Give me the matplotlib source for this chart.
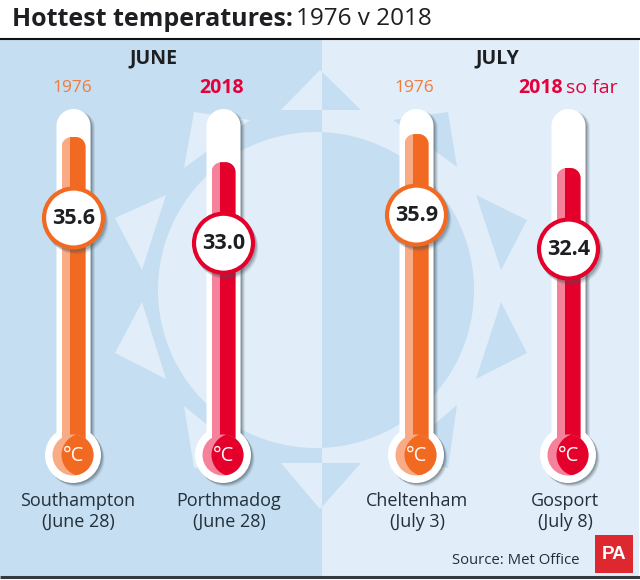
import matplotlib
matplotlib.use("Agg")
import matplotlib.pyplot as plt
import numpy as np
from matplotlib.patches import Rectangle, Circle, Polygon, FancyBboxPatch

# ---- data ----
cities = ["Southampton", "Porthmadog", "Cheltenham", "Gosport"]
dates = ["(June 28)", "(June 28)", "(July 3)", "(July 8)"]
values = [35.6, 33.0, 35.9, 32.4]
value_labels = ["35.6", "33.0", "35.9", "32.4"]
years = ["1976", "2018", "1976", "2018"]
months = ["JUNE", "JULY"]

# ---- style ----
FONT = "Open Sans"
plt.rcParams["font.family"] = [FONT, "DejaVu Sans"]
LEFT_BG, RIGHT_BG = "#C5DEF1", "#E1EEF9"
INK = "#1D1F22"
LABEL = "#22303A"
ORANGE = ("#F26A21", "#F9AB85", "#EF7B3D")
RED = ("#E4002B", "#F5819A", "#E4003A")
palette = [ORANGE, RED, ORANGE, RED]
tube_x = [73.5, 223.5, 416.5, 568.5]
label_x = [78, 229, 417, 565]
year_x = [72, 222, 414, None]
W, H = 640, 580
PX_PER_DEG = 9.7
TOP_AT = (35.6, 137)            # value -> pixel row calibration

fig = plt.figure(figsize=(W / 100, H / 100), dpi=100, facecolor="white")


def full_axes(z):
    a = fig.add_axes([0, 0, 1, 1], zorder=z)
    a.set_xlim(0, W)
    a.set_ylim(H, 0)
    a.axis("off")
    a.patch.set_visible(False)
    return a


def round_top(x, width, top_row, bottom_row, radius):
    """Outline of a column with two round upper corners, in pixel space."""
    t = np.linspace(0, np.pi / 2, 16)
    right_arc = [(x + width / 2 - radius + radius * np.cos(a),
                  top_row + radius - radius * np.sin(a)) for a in t]
    left_arc = [(x - width / 2 + radius - radius * np.sin(a),
                 top_row + radius - radius * np.cos(a)) for a in t]
    return [(x + width / 2, bottom_row)] + right_arc + left_arc + [(x - width / 2, bottom_row)]


bg = full_axes(1)
mid = full_axes(2)
top = full_axes(3)
# temperature scale: same pixel space in x, degrees Celsius in y
mid.set_ylim(TOP_AT[0] - (H - TOP_AT[1]) / PX_PER_DEG,
             TOP_AT[0] + TOP_AT[1] / PX_PER_DEG)

# ---- background panels and sun ----
left = Rectangle((0, 40), 322, 536, fc=LEFT_BG, ec="none")
right = Rectangle((322, 40), 317, 536, fc=RIGHT_BG, ec="none")
bg.add_patch(left)
bg.add_patch(right)
rays = [
    [(281, 110), (320, 70), (361, 110)],
    [(281, 463), (320, 509), (361, 463)],
    [(115, 218), (166, 195), (142, 270)],
    [(115, 353), (166, 379), (142, 302)],
    [(194, 112), (184, 168), (250, 120)],
    [(184, 406), (194, 468), (250, 460)],
    [(476, 195), (527, 220), (501, 270)],
    [(476, 379), (527, 353), (501, 302)],
    [(448, 112), (393, 120), (457, 167)],
    [(457, 405), (448, 468), (393, 460)],
]
for panel, col in ((left, RIGHT_BG), (right, LEFT_BG)):
    c = Circle((316, 290), 158, fc=col, ec="none")
    bg.add_patch(c)
    c.set_clip_path(panel)
    for r in rays:
        p = Polygon(r, closed=True, fc=col, ec="none")
        bg.add_patch(p)
        p.set_clip_path(panel)

# header and footer rules
bg.plot([0, W], [39, 39], color="#111111", lw=1.5, solid_capstyle="butt")
bg.plot([0, W], [577, 577], color="#333B40", lw=2.2, solid_capstyle="butt")

# ---- thermometers ----
TW, FW, BULB_Y, BULB_R, BULB_IN = 34, 24, 455, 28, 20.5
TUBE_TOP = 109
BASE_ROW = 450
for x, val, pal in zip(tube_x, values, palette):
    # soft shadow
    for d, a in ((4.5, .10), (3.5, .14), (2.5, .20), (1.5, .28)):
        bg.add_patch(Polygon(round_top(x + d, TW, TUBE_TOP + 2, BULB_Y, TW / 2),
                             closed=True, fc="#45525C", ec="none", alpha=a))
        bg.add_patch(Circle((x - .5 + d * .8, BULB_Y + d * .8), BULB_R, fc="#45525C", ec="none", alpha=a))
    # white glass
    bg.add_patch(Polygon(round_top(x, TW, TUBE_TOP, BULB_Y, TW / 2), closed=True, fc="white", ec="none"))
    bg.add_patch(Circle((x - .5, BULB_Y), BULB_R, fc="white", ec="none"))

    # mercury column, from the temperature axis
    base_t = mid.get_ylim()[0] + (H - BASE_ROW) / PX_PER_DEG
    top_row = H - mid.transData.transform((0, val))[1]
    clip = Polygon(round_top(x, FW, top_row, BASE_ROW, 10), closed=True, fc="none", ec="none")
    bg.add_patch(clip)
    b1 = mid.bar(x, val - base_t, FW, bottom=base_t, color=pal[1], lw=0)[0]
    b2 = mid.bar(x + 4, val - base_t, FW - 8, bottom=base_t, color=pal[0], lw=0)[0]
    b1.set_clip_path(clip)
    b2.set_clip_path(clip)

    # bulb
    bulb = Circle((x - .5, BULB_Y), BULB_IN, fc=pal[1], ec="none")
    top.add_patch(bulb)
    inner = Circle((x + 9.5, BULB_Y), BULB_IN + 1, fc=pal[0], ec="none")
    top.add_patch(inner)
    inner.set_clip_path(bulb)
    top.text(x + .5, BULB_Y + 1, "°C", color="white", fontsize=14.5,
             ha="center", va="center")

    # value badge
    cy = top_row + 81
    for d, a in ((5, .08), (4, .12), (3, .16), (2, .22)):
        top.add_patch(Circle((x + d * .7, cy + d), 31.5, fc="#45525C", ec="none", alpha=a))
    top.add_patch(Circle((x, cy), 29.5, fc="white", ec=pal[0], lw=3))

for x, val, lab in zip(tube_x, values, value_labels):
    cy = H - mid.transData.transform((0, val))[1] + 81
    top.text(x, cy + .5, lab, color=INK, fontsize=15.5, fontweight="bold",
             ha="center", va="center")

# ---- text ----
top.text(12, 19, "Hottest temperatures:", color=INK, fontsize=18, fontweight="bold",
         ha="left", va="center")
top.text(296, 19, "1976 v 2018", color=INK, fontsize=17.5, ha="left", va="center")
top.text(153, 58, months[0], color=INK, fontsize=14, fontweight="bold", ha="center", va="center")
top.text(497, 58, months[1], color=INK, fontsize=14, fontweight="bold", ha="center", va="center")
for x, y, pal in zip(year_x, years, palette):
    if x is None:
        continue
    bold = y == "2018"
    top.text(x, 88, y, color=pal[2], fontsize=14 if bold else 12.5,
             fontweight="bold" if bold else "normal", ha="center", va="center")
top.text(518, 88, years[3], color=RED[2], fontsize=14, fontweight="bold", ha="left", va="center")
top.text(566, 88, "so far", color=RED[2], fontsize=14, ha="left", va="center")
for x, city, date in zip(label_x, cities, dates):
    top.text(x, 501, city, color=LABEL, fontsize=13, ha="center", va="center")
    top.text(x, 522, date, color=LABEL, fontsize=13, ha="center", va="center")
top.text(580, 561, "Source: Met Office", color=LABEL, fontsize=10.7, ha="right", va="center")

# PA logo
top.add_patch(Rectangle((595, 535), 38, 38, fc="#DC282E", ec="none"))
top.text(614, 554.5, "PA", color="white", fontsize=13.5, fontweight="bold",
         family=["Liberation Sans"], ha="center", va="center")

fig.savefig("out.png", dpi=100, facecolor="white")
